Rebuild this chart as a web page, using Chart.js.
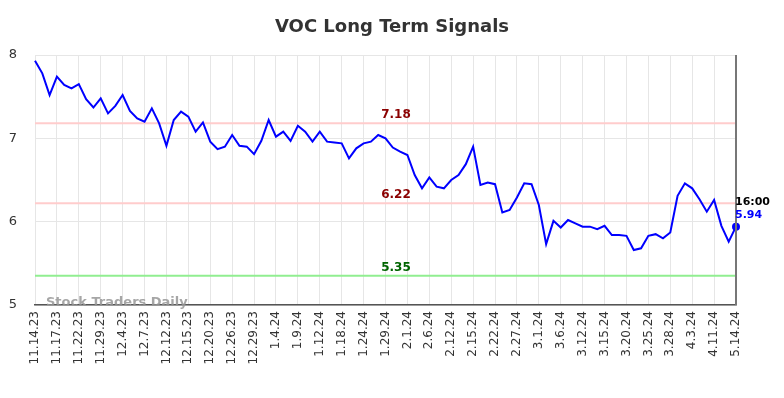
<!DOCTYPE html>
<html>
<head>
<meta charset="utf-8">
<script src="https://cdn.jsdelivr.net/npm/chart.js@4/dist/chart.umd.min.js"></script>
<style>
  html, body { margin: 0; padding: 0; background: #ffffff; }
  #c { display: block; }
</style>
</head>
<body>
<canvas id="c" width="784" height="398"></canvas>
<script>
// ---- data ----
const tickLabels = ["11.14.23","11.17.23","11.22.23","11.29.23","12.4.23","12.7.23","12.12.23","12.15.23","12.20.23","12.26.23","12.29.23","1.4.24","1.9.24","1.12.24","1.18.24","1.24.24","1.29.24","2.1.24","2.6.24","2.12.24","2.15.24","2.22.24","2.27.24","3.1.24","3.6.24","3.12.24","3.15.24","3.20.24","3.25.24","3.28.24","4.3.24","4.11.24","5.14.24"];
const prices = [7.93,7.78,7.52,7.74,7.64,7.60,7.65,7.47,7.37,7.48,7.30,7.39,7.52,7.33,7.24,7.20,7.36,7.18,6.91,7.22,
  7.32,7.26,7.08,7.19,6.96,6.87,6.90,7.04,6.91,6.90,6.81,6.97,7.22,7.02,7.08,6.97,7.15,7.08,6.96,7.08,
  6.96,6.95,6.94,6.76,6.88,6.94,6.96,7.04,7.00,6.89,6.84,6.80,6.56,6.40,6.53,6.42,6.40,6.50,6.56,6.69,
  6.90,6.44,6.47,6.45,6.11,6.14,6.29,6.46,6.45,6.20,5.73,6.01,5.93,6.02,5.98,5.94,5.94,5.91,5.95,5.84,
  5.84,5.83,5.66,5.68,5.83,5.85,5.80,5.87,6.31,6.46,6.40,6.27,6.12,6.26,5.95,5.76,5.94];
const signalLevels = [7.18, 6.22, 5.35];
const signalLabels = ["7.18", "6.22", "5.35"];
const yTicks = [5, 6, 7, 8];
const lastTime = "16:00";
const lastValue = "5.94";
const titleText = "VOC Long Term Signals";
const watermark = "Stock Traders Daily";

// categories: one per point, tick label every third point
const categories = prices.map((v, i) => (i % 3 === 0 && tickLabels[i / 3]) ? tickLabels[i / 3] : "");
const lastIndex = prices.length - 1;

const FONT = "'DejaVu Sans', 'Noto Sans', sans-serif";
const lineColors = ["#ffcccc", "#ffcccc", "#90ee90"];
const textColors = ["#8b0000", "#8b0000", "#006400"];

const overlay = {
  id: 'overlay',
  beforeDatasetsDraw(chart) {
    const { ctx, chartArea: a, scales: { y } } = chart;
    ctx.save();
    signalLevels.forEach((lvl, k) => {
      const py = y.getPixelForValue(lvl);
      ctx.strokeStyle = lineColors[k];
      ctx.lineWidth = 2;
      ctx.beginPath();
      ctx.moveTo(a.left, py);
      ctx.lineTo(a.right, py);
      ctx.stroke();
      ctx.fillStyle = textColors[k];
      ctx.font = "bold 12px " + FONT;
      ctx.textAlign = "center";
      ctx.textBaseline = "bottom";
      ctx.fillText(signalLabels[k], a.left + (a.right - a.left) * 0.515, py - 2);
    });
    ctx.restore();
  },
  afterDraw(chart) {
    const { ctx, chartArea: a, scales: { x, y } } = chart;
    ctx.save();
    // right border
    ctx.strokeStyle = "#777777";
    ctx.lineWidth = 2;
    ctx.beginPath();
    ctx.moveTo(a.right, a.top);
    ctx.lineTo(a.right, a.bottom);
    ctx.stroke();
    // title
    ctx.fillStyle = "#333333";
    ctx.font = "bold 18px " + FONT;
    ctx.textAlign = "center";
    ctx.textBaseline = "middle";
    ctx.fillText(titleText, chart.width / 2, 27);
    // last value labels
    const px = x.getPixelForValue(lastIndex);
    const py = y.getPixelForValue(prices[lastIndex]);
    ctx.textAlign = "left";
    ctx.textBaseline = "middle";
    ctx.font = "bold 11px " + FONT;
    ctx.fillStyle = "#000000";
    ctx.fillText(lastTime, px - 1, py - 25);
    ctx.fillStyle = "#0000ff";
    ctx.fillText(lastValue, px - 1, py - 12);
    // watermark
    ctx.font = "bold 13px " + FONT;
    ctx.fillStyle = "rgba(150,150,150,0.85)";
    ctx.textAlign = "left";
    ctx.textBaseline = "middle";
    ctx.fillText(watermark, a.left + 11, a.bottom - 2);
    ctx.restore();
  }
};

new Chart(document.getElementById('c'), {
  type: 'line',
  data: {
    labels: categories,
    datasets: [{
      data: prices,
      borderColor: '#0000ff',
      backgroundColor: '#0000ff',
      borderWidth: 2,
      tension: 0,
      fill: false,
      clip: false,
      pointRadius: ctx => ctx.dataIndex === lastIndex ? 4 : 0,
      pointHoverRadius: 0,
      pointBackgroundColor: '#0000ff',
      pointBorderWidth: 0
    }]
  },
  options: {
    responsive: false,
    devicePixelRatio: 1,
    animation: false,
    events: [],
    layout: { padding: { top: 55, right: 48, left: 0, bottom: 0 } },
    plugins: { legend: { display: false }, title: { display: false }, tooltip: { enabled: false } },
    scales: {
      x: {
        type: 'category',
        offset: false,
        grid: {
          color: ctx => (ctx.index % 3 === 0 ? '#e6e6e6' : 'rgba(0,0,0,0)'),
          lineWidth: 1,
          drawTicks: false
        },
        border: { display: true, color: '#555555', width: 1.5 },
        ticks: {
          autoSkip: false,
          minRotation: 90,
          maxRotation: 90,
          padding: 6,
          color: '#333333',
          font: { family: FONT, size: 12 },
          callback: function (val, idx) { return categories[idx]; }
        },
        afterFit: s => { s.height = 93; }
      },
      y: {
        min: 5,
        max: 8,
        afterBuildTicks: s => { s.ticks = yTicks.map(v => ({ value: v })); },
        grid: { color: '#e6e6e6', lineWidth: 1, drawTicks: false },
        border: { display: false },
        ticks: {
          padding: 18,
          color: '#333333',
          font: { family: FONT, size: 13 }
        },
        afterFit: s => { s.width = 35; }
      }
    }
  },
  plugins: [overlay]
});
</script>
</body>
</html>
